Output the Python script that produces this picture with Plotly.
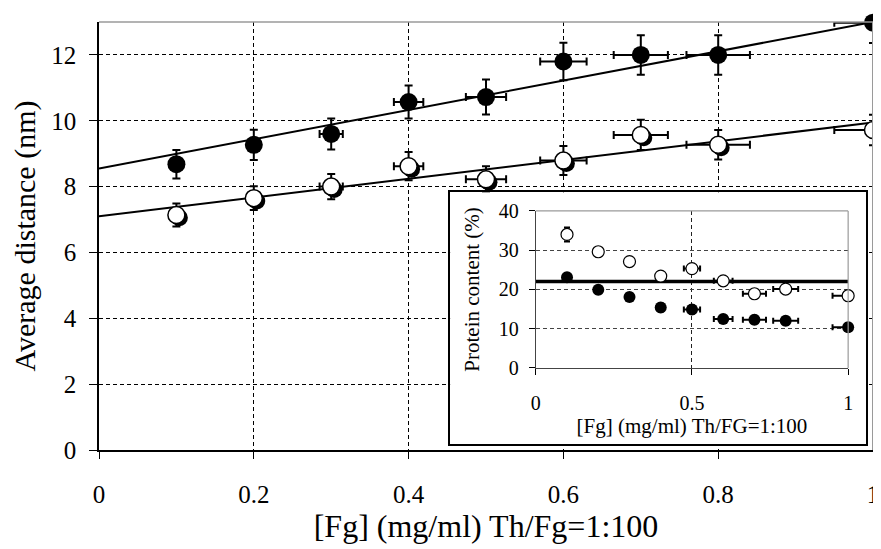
import plotly.graph_objects as go

# Main plot data: [Fg] concentration vs average distance
fg = [0.1, 0.2, 0.3, 0.4, 0.5, 0.6, 0.7, 0.8, 1.0]
fg_err = [0.0, 0.0, 0.015, 0.019, 0.026, 0.03, 0.035, 0.041, 0.05]
dist_filled = [8.68, 9.27, 9.6, 10.57, 10.72, 11.8, 12.0, 12.0, 12.98]
dist_filled_err = [0.43, 0.46, 0.47, 0.5, 0.53, 0.57, 0.6, 0.6, 0.62]
dist_open = [7.14, 7.65, 8.0, 8.62, 8.22, 8.79, 9.57, 9.27, 9.72]
dist_open_err = [0.35, 0.36, 0.38, 0.43, 0.4, 0.44, 0.46, 0.45, 0.46]
fit_filled = [8.55, 4.45]   # intercept, slope
fit_open = [7.1, 2.85]

# Inset data: protein content
prot_open = [34.0, 29.6, 27.1, 23.4, 25.3, 22.2, 18.9, 20.1, 18.4]
prot_open_err = [1.8, 1.0, 1.0, 1.0, 1.0, 1.0, 1.0, 1.0, 1.0]
prot_filled = [23.1, 19.9, 18.1, 15.4, 14.9, 12.5, 12.3, 12.0, 10.4]
prot_filled_err = [1.0, 1.0, 1.0, 1.0, 1.0, 1.0, 1.0, 1.0, 1.0]
prot_fg_err_plus = [0.0, 0.0, 0.0, 0.0, 0.026, 0.03, 0.037, 0.04, 0.0]
prot_fg_err_minus = [0.0, 0.0, 0.0, 0.0, 0.026, 0.03, 0.037, 0.04, 0.05]
prot_level = 22

FONT = "Liberation Serif"

fig = go.Figure()

# fitted lines
x_fit = [0, max(fg)]
for b, m in (fit_filled, fit_open):
    fig.add_trace(go.Scatter(x=x_fit, y=[b + m * x for x in x_fit], mode="lines",
                             line=dict(color="black", width=2), xaxis="x", yaxis="y",
                             showlegend=False, hoverinfo="skip"))

# shadow behind open circles (shifted overlay axes)
fig.add_trace(go.Scatter(x=fg, y=dist_open, mode="markers", cliponaxis=False,
                         marker=dict(size=17, color="black"), xaxis="x4", yaxis="y4",
                         showlegend=False, hoverinfo="skip"))

ebar = dict(color="black", thickness=2, width=4)
fig.add_trace(go.Scatter(
    x=fg, y=dist_filled, mode="markers", cliponaxis=False,
    marker=dict(size=18, color="black"),
    error_y=dict(type="data", array=dist_filled_err, **ebar),
    error_x=dict(type="data", array=fg_err, **ebar),
    xaxis="x5", yaxis="y5", showlegend=False))
fig.add_trace(go.Scatter(
    x=fg, y=dist_open, mode="markers", cliponaxis=False,
    marker=dict(size=17, color="white", line=dict(color="black", width=1.5)),
    error_y=dict(type="data", array=dist_open_err, **ebar),
    error_x=dict(type="data", array=fg_err, **ebar),
    xaxis="x5", yaxis="y5", showlegend=False))

# inset frame subplot (empty)
fig.add_trace(go.Scatter(x=[None], y=[None], xaxis="x2", yaxis="y2",
                         showlegend=False, hoverinfo="skip"))

# inset traces
fig.add_trace(go.Scatter(x=[0, 1], y=[prot_level, prot_level], mode="lines",
                         line=dict(color="black", width=3.5), xaxis="x3", yaxis="y3",
                         showlegend=False, hoverinfo="skip"))
ebar2 = dict(color="black", thickness=2, width=3)
fig.add_trace(go.Scatter(
    x=fg, y=prot_open, mode="markers", cliponaxis=False,
    marker=dict(size=12, color="white", line=dict(color="black", width=1.2)),
    error_y=dict(type="data", array=prot_open_err, **ebar2),
    error_x=dict(type="data", array=prot_fg_err_plus, arrayminus=prot_fg_err_minus,
                 symmetric=False, **ebar2),
    xaxis="x3", yaxis="y3", showlegend=False))
fig.add_trace(go.Scatter(
    x=fg, y=prot_filled, mode="markers", cliponaxis=False,
    marker=dict(size=12, color="black"),
    error_y=dict(type="data", array=prot_filled_err, **ebar2),
    error_x=dict(type="data", array=prot_fg_err_plus, arrayminus=prot_fg_err_minus,
                 symmetric=False, **ebar2),
    xaxis="x3", yaxis="y3", showlegend=False))

px_x = 1 / 778.0
px_y = 13 / 439.0
shift = 3

fig.update_layout(
    width=873, height=541,
    margin=dict(l=91, r=4, t=3, b=99),
    paper_bgcolor="white", plot_bgcolor="white",
    font=dict(family=FONT, color="black", size=25),
    xaxis=dict(range=[0, 1], dtick=0.2, showline=True, linecolor="black", linewidth=1.5,
               ticks="outside", ticklen=7, tickcolor="black", ticklabelstandoff=14,
               showgrid=True, gridcolor="black", gridwidth=1, griddash="4px,3px",
               zeroline=False, tickfont=dict(size=25), automargin=False,
               title=dict(text="[Fg] (mg/ml) Th/Fg=1:100", font=dict(size=32), standoff=2)),
    yaxis=dict(range=[0, 13], tickvals=[0, 2, 4, 6, 8, 10, 12], showline=True, linecolor="black",
               linewidth=1.5, ticks="outside", ticklen=8, tickcolor="black",
               ticklabelstandoff=8, automargin=False,
               showgrid=True, gridcolor="black", gridwidth=1, griddash="4px,3px",
               zeroline=False, tickfont=dict(size=25),
               title=dict(text="Average distance (nm)", font=dict(size=30), standoff=16)),
    xaxis4=dict(overlaying="x", range=[-shift * px_x, 1 - shift * px_x], visible=False),
    yaxis4=dict(overlaying="y", range=[shift * px_y, 13 + shift * px_y], visible=False),
    xaxis5=dict(overlaying="x", range=[0, 1], visible=False),
    yaxis5=dict(overlaying="y", range=[0, 13], visible=False),
    xaxis2=dict(domain=[0.4537, 0.991], anchor="y2", range=[0, 1], showline=True, mirror=True,
                linecolor="black", linewidth=1.5, showgrid=False, zeroline=False,
                showticklabels=False, ticks=""),
    yaxis2=dict(domain=[0.0137, 0.602], anchor="x2", range=[0, 1], showline=True, mirror=True,
                linecolor="black", linewidth=1.5, showgrid=False, zeroline=False,
                showticklabels=False, ticks=""),
    xaxis3=dict(domain=[0.5643, 0.9679], anchor="y3", range=[0, 1], dtick=0.5,
                showline=True, linecolor="#444", linewidth=1.2, ticks="outside", ticklen=6,
                tickcolor="black", ticklabelstandoff=11, showgrid=True, gridcolor="#222",
                gridwidth=1, griddash="4px,3px", zeroline=False, tickfont=dict(size=20),
                title=dict(text="[Fg] (mg/ml) Th/FG=1:100", font=dict(size=21), standoff=0)),
    yaxis3=dict(domain=[0.1916, 0.5587], anchor="x3", range=[0, 40], dtick=10,
                showline=True, linecolor="#444", linewidth=1.2, ticks="outside", ticklen=6,
                tickcolor="black", ticklabelstandoff=6, showgrid=True, gridcolor="#444",
                gridwidth=1, griddash="4px,3px", zeroline=False, tickfont=dict(size=20),
                title=dict(text="Protein content (%)", font=dict(size=21), standoff=13)),
    shapes=[
        dict(type="line", xref="paper", yref="paper", x0=0, x1=1, y0=1, y1=1,
             line=dict(color="#9a9a9a", width=1.5)),
        dict(type="line", xref="paper", yref="paper", x0=1, x1=1, y0=0, y1=1,
             line=dict(color="#9a9a9a", width=2)),
        dict(type="line", xref="x3 domain", yref="y3 domain", x0=0, x1=1, y0=1, y1=1,
             line=dict(color="#9a9a9a", width=1.2)),
        dict(type="line", xref="x3 domain", yref="y3 domain", x0=1, x1=1, y0=0, y1=1,
             line=dict(color="#9a9a9a", width=1.2)),
    ],
)

fig.write_html("out.html")
